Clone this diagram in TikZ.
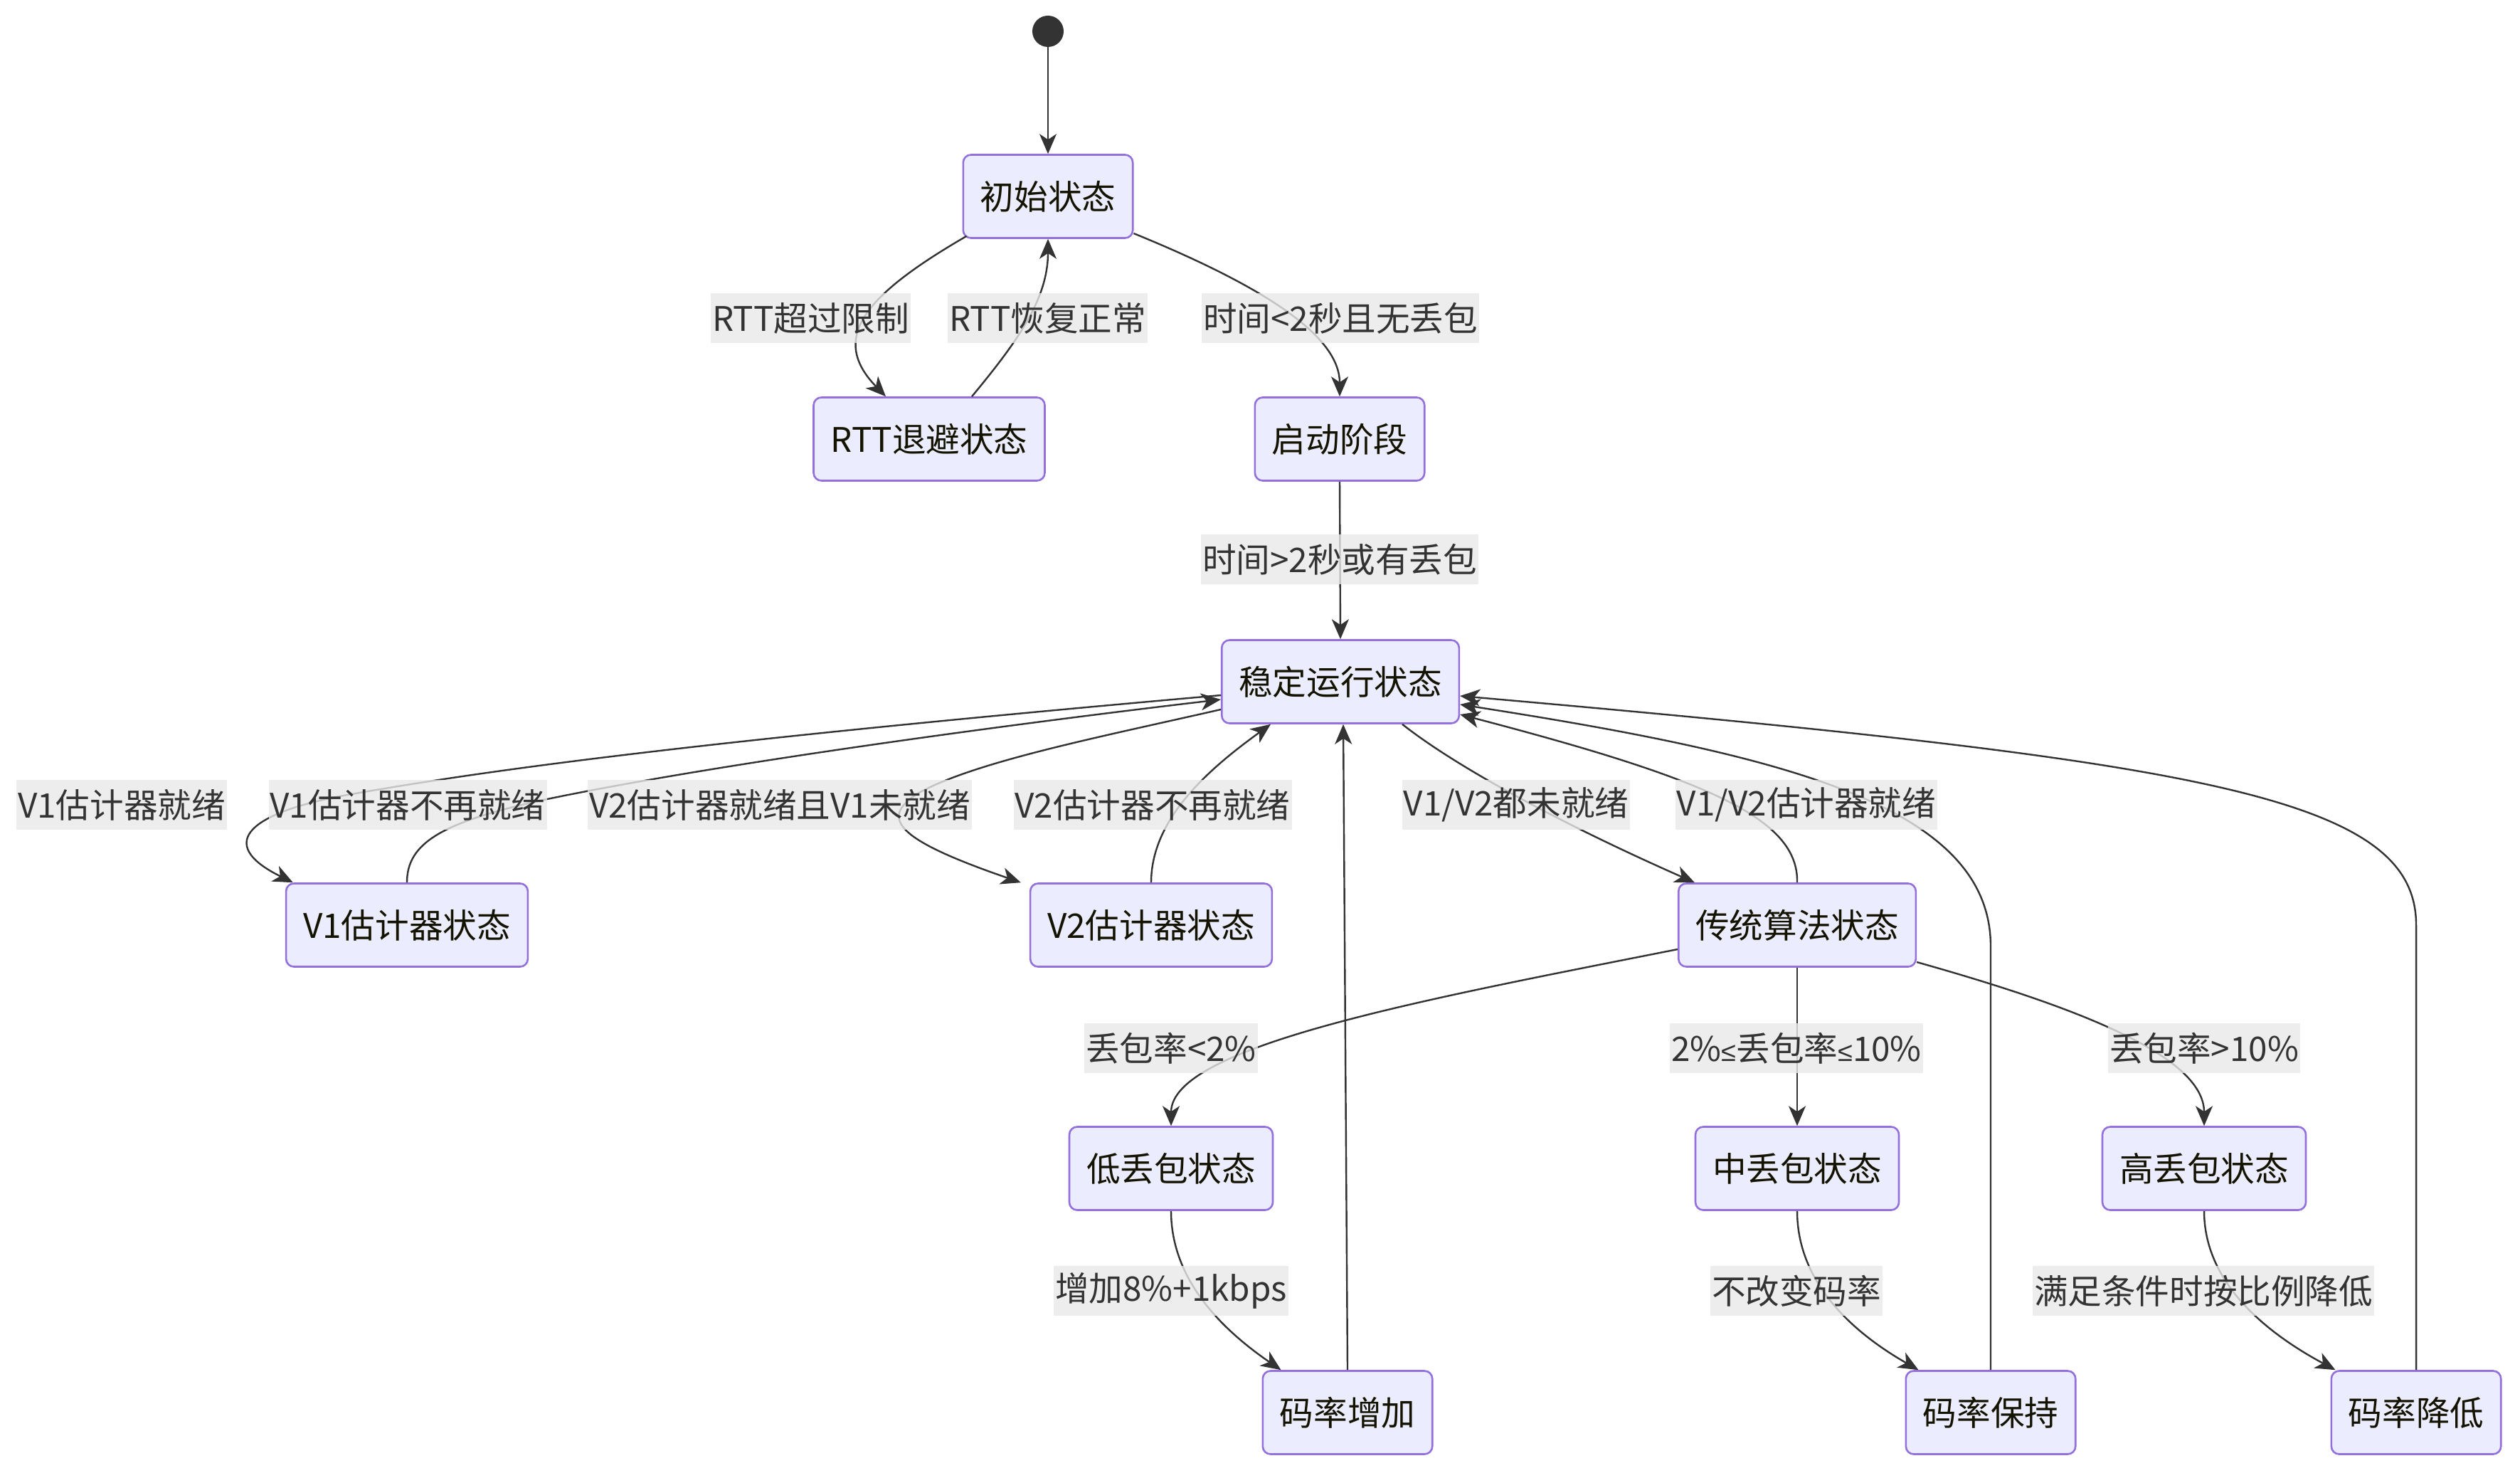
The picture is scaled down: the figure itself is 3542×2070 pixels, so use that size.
\documentclass[tikz,border=0pt]{standalone}
\usepackage{fontspec}
\setmainfont{Noto Sans CJK SC}
\newfontfamily\symfont{Liberation Sans}
\usetikzlibrary{arrows.meta,calc}
\definecolor{nodefill}{HTML}{ECECFF}
\definecolor{nodeline}{HTML}{9370DB}
\definecolor{nodetext}{HTML}{131300}
\definecolor{edgecol}{HTML}{333333}
\definecolor{lblbg}{HTML}{E8E8E8}
\definecolor{lbltext}{HTML}{333333}
\begin{document}
\begin{tikzpicture}[x=0.5pt,y=-0.5pt,
  statebox/.style={draw=nodeline, fill=nodefill, line width=1.3pt, rounded corners=5.5pt,
    minimum height=58.5pt, inner xsep=12pt, text=nodetext,
    font=\fontsize{23.8pt}{28pt}\selectfont},
  edgelbl/.style={fill=lblbg, fill opacity=0.8, text opacity=1, text=lbltext,
    inner xsep=1pt, inner ysep=0pt, minimum height=35pt,
    font=\fontsize{23.8pt}{28pt}\selectfont},
  trans/.style={draw=edgecol, line width=1.2pt,
    -{Stealth[length=14pt,width=12pt,inset=4pt]}},
  startdot/.style={circle, fill=edgecol, minimum size=22pt, inner sep=0pt}
]
\useasboundingbox (0,0) rectangle (3542,2070);

% states
\node[startdot] (s0) at (1473,44) {};
\node[statebox] (init) at (1473,276) {初始状态};
\node[statebox] (rtt) at (1306,617) {RTT退避状态};
\node[statebox] (start) at (1883,617) {启动阶段};
\node[statebox] (stable) at (1884,958) {稳定运行状态};
\node[statebox] (v1) at (572,1300) {V1估计器状态};
\node[statebox] (v2) at (1618,1300) {V2估计器状态};
\node[statebox] (trad) at (2526,1300) {传统算法状态};
\node[statebox] (low) at (1646,1642) {低丢包状态};
\node[statebox] (mid) at (2526,1642) {中丢包状态};
\node[statebox] (high) at (3098,1642) {高丢包状态};
\node[statebox] (inc) at (1894,1985) {码率增加};
\node[statebox] (keep) at (2798,1985) {码率保持};
\node[statebox] (dec) at (3396,1985) {码率降低};

% transitions
\draw[trans] (s0.south) -- (init.north);
\draw[trans] ([xshift=3pt,yshift=2pt]init.south west) .. controls (1215,415) and (1165,475) .. ([xshift=-30.5pt]rtt.north);
\draw[trans] ([xshift=30pt]rtt.north) .. controls (1430,480) and (1473,420) .. (init.south);
\draw[trans] ([yshift=-26pt]init.east) .. controls (1770,400) and (1883,470) .. (start.north);
\draw[trans] (start.south) -- (stable.north);
\draw[trans] ([yshift=-9.5pt]stable.west) .. controls (1000,1040) and (700,1080) .. (500,1115) .. controls (350,1140) and (300,1185) .. ([xshift=5.5pt]v1.north west);
\draw[trans] (v1.north) .. controls (572,1185) and (620,1155) .. (769,1123) .. controls (1000,1075) and (1400,1020) .. ([yshift=-12.5pt]stable.west);
\draw[trans] ([yshift=-19.5pt]stable.west) .. controls (1550,1035) and (1370,1070) .. (1290,1115) .. controls (1235,1150) and (1260,1180) .. ([xshift=-6pt]v2.north west);
\draw[trans] (v2.north) .. controls (1618,1150) and (1700,1080) .. ([xshift=-49pt]stable.south);
\draw[trans] (inc.north) -- ([xshift=2pt]stable.south);
\draw[trans] ([xshift=43.5pt]stable.south) .. controls (2050,1080) and (2200,1160) .. ([xshift=12pt]trad.north west);
\draw[trans] (trad.north) .. controls (2528,1150) and (2400,1095) .. ([yshift=-23pt]stable.east);
\draw[trans] (keep.north) -- (2798,1330) .. controls (2798,1130) and (2500,1060) .. ([yshift=-16pt]stable.east);
\draw[trans] (dec.north) -- (3396,1300) .. controls (3396,1120) and (3100,1070) .. ([yshift=-10pt]stable.east);
\draw[trans] ([yshift=-17pt]trad.west) .. controls (2000,1405) and (1646,1470) .. (low.north);
\draw[trans] (trad.south) -- (mid.north);
\draw[trans] ([yshift=-26pt]trad.east) .. controls (2900,1410) and (3098,1480) .. (high.north);
\draw[trans] (low.south) .. controls (1646,1800) and (1720,1870) .. ([xshift=13.5pt]inc.north west);
\draw[trans] (mid.south) .. controls (2526,1800) and (2600,1870) .. ([xshift=9.5pt]keep.north west);
\draw[trans] (high.south) .. controls (3098,1800) and (3180,1870) .. ([xshift=3.5pt]dec.north west);

% labels
\node[edgelbl] (l1) at (1139.5,447) {RTT超过限制};
\node[edgelbl] (l2) at (1472.5,447) {RTT恢复正常};
\node[edgelbl] (l3) at (1884,447) {时间<2秒且无丢包};
\node[edgelbl] (l4) at (1883,786) {时间>2秒或有丢包};
\node[edgelbl] (l5) at (171,1131) {V1估计器就绪};
\node[edgelbl] (l6) at (573,1131) {V1估计器不再就绪};
\node[edgelbl] (l7) at (1096,1131) {V2估计器就绪且V1未就绪};
\node[edgelbl] (l8) at (1620,1131) {V2估计器不再就绪};
\node[edgelbl] (l9) at (2131,1131) {V1/V2都未就绪};
\node[edgelbl] (l10) at (2539,1131) {V1/V2估计器就绪};
\node[edgelbl] (l11) at (1646,1473) {丢包率<2\%};
\node[edgelbl] (l12) at (2525,1473) {2\%{\symfont\fontsize{19pt}{24pt}\selectfont ≤}丢包率{\symfont\fontsize{19pt}{24pt}\selectfont ≤}10\%};
\node[edgelbl] (l13) at (3098,1473) {丢包率>10\%};
\node[edgelbl] (l14) at (1646,1814) {增加8\%+1kbps};
\node[edgelbl] (l15) at (2525,1814) {不改变码率};
\node[edgelbl] (l16) at (3097,1814) {满足条件时按比例降低};
\end{tikzpicture}
\end{document}
